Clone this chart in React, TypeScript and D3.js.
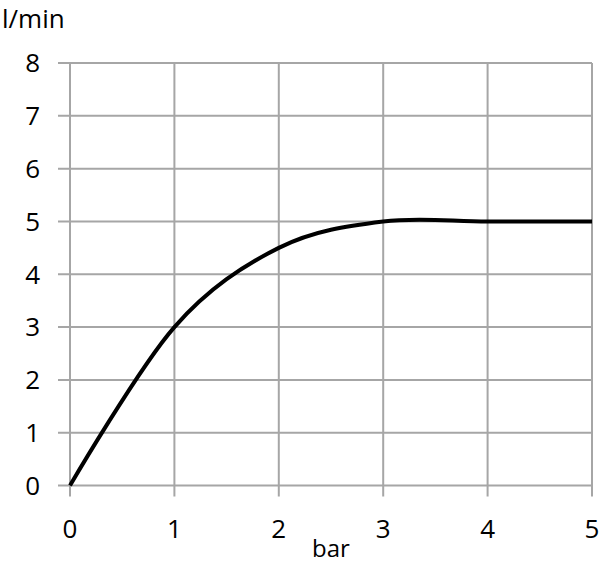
import React, { useRef, useEffect } from 'react';
import * as d3 from 'd3';

const pressure: number[] = [0, 1, 2, 3, 4, 5];
const flow: number[] = [0, 3, 4.5, 5, 5, 5];
const xTicks: number[] = [0, 1, 2, 3, 4, 5];
const yTicks: number[] = [0, 1, 2, 3, 4, 5, 6, 7, 8];

const App: React.FC = () => {
  const svgRef = useRef<SVGSVGElement>(null);

  useEffect(() => {
    if (!svgRef.current) return;
    const svg = d3.select(svgRef.current);
    svg.selectAll('*').remove();

    const font = '"Open Sans", "Noto Sans", sans-serif';
    const grid = '#a6a6a6';

    const x = d3.scaleLinear().domain([0, 5]).range([70, 592]);
    const y = d3.scaleLinear().domain([0, 8]).range([485.5, 63]);

    // vertical grid + ticks below
    svg.append('g')
      .selectAll('line')
      .data(xTicks)
      .enter().append('line')
      .attr('x1', d => x(d)).attr('x2', d => x(d))
      .attr('y1', y(8)).attr('y2', y(0) + 11)
      .attr('stroke', grid).attr('stroke-width', 2);

    // horizontal grid + ticks left
    svg.append('g')
      .selectAll('line')
      .data(yTicks)
      .enter().append('line')
      .attr('x1', x(0) - 12).attr('x2', x(5))
      .attr('y1', d => y(d)).attr('y2', d => y(d))
      .attr('stroke', grid).attr('stroke-width', 2);

    svg.append('g')
      .selectAll('text')
      .data(yTicks)
      .enter().append('text')
      .attr('x', 40)
      .attr('y', d => y(d))
      .attr('dy', '0.36em')
      .attr('text-anchor', 'end')
      .attr('font-family', font)
      .attr('font-size', 26)
      .attr('fill', '#000')
      .text(d => d);

    svg.append('g')
      .selectAll('text')
      .data(xTicks)
      .enter().append('text')
      .attr('x', d => x(d))
      .attr('y', 538)
      .attr('text-anchor', 'middle')
      .attr('font-family', font)
      .attr('font-size', 26)
      .attr('fill', '#000')
      .text(d => d);

    svg.append('text')
      .attr('x', 331).attr('y', 557)
      .attr('text-anchor', 'middle')
      .attr('font-family', font).attr('font-size', 24)
      .text('bar');

    svg.append('text')
      .attr('x', 2).attr('y', 28)
      .attr('font-family', font).attr('font-size', 26)
      .text('l/min');

    const line = d3.line<number>()
      .x((_, i) => x(pressure[i]))
      .y(d => y(d))
      .curve(d3.curveCatmullRom.alpha(0));

    svg.append('path')
      .datum(flow)
      .attr('d', line)
      .attr('fill', 'none')
      .attr('stroke', '#000')
      .attr('stroke-width', 4)
      .attr('stroke-linejoin', 'round');
  }, []);

  return (
    <svg ref={svgRef} width="600" height="563"
      style={{ position: 'absolute', left: 0, top: 0, background: '#fff' }}></svg>
  );
};

export default App;
